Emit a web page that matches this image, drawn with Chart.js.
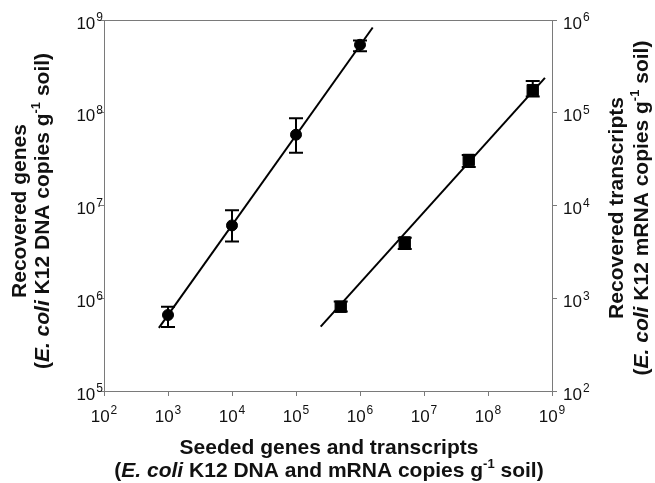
<!DOCTYPE html>
<html>
  <head>
    <script src="https://cdn.jsdelivr.net/npm/chart.js@4.4.0/dist/chart.umd.min.js"></script>
    <style>
      body { margin: 0; background: #fff; }
      .chart-container { width: 655px; height: 483px; }
    </style>
  </head>
  <body>
    <div class="chart-container">
      <canvas id="myChart" width="655" height="483"></canvas>
    </div>
    <script>
      // DNA (genes) - left axis
      var dnaSeeded = [1e3, 1e4, 1e5, 1e6];
      var dnaRecovered = [6.6e5, 6.1e6, 5.8e7, 5.4e8];
      var dnaHigh = [8.1e5, 8.9e6, 8.7e7, 6.0e8];
      var dnaLow = [4.9e5, 4.1e6, 3.7e7, 4.6e8];
      var dnaFitX = [7.2e2, 1.58e6];
      var dnaFitY = [4.8e5, 8.3e8];

      // mRNA (transcripts) - right axis
      var mrnaSeeded = [5e5, 5e6, 5e7, 5e8];
      var mrnaRecovered = [8.1e2, 4.0e3, 3.1e4, 1.75e5];
      var mrnaHigh = [9.2e2, 4.5e3, 3.5e4, 2.2e5];
      var mrnaLow = [7.2e2, 3.4e3, 2.6e4, 1.5e5];
      var mrnaFitX = [2.43e5, 7.76e8];
      var mrnaFitY = [4.95e2, 2.38e5];

      // tick exponents
      var xExponents = [2, 3, 4, 5, 6, 7, 8, 9];
      var yExponents = [5, 6, 7, 8, 9];
      var y2Exponents = [2, 3, 4, 5, 6];

      var FONT = "'Liberation Sans', Arial, sans-serif";
      var AXIS_GREY = "#7a7a7a";

      function pts(xs, ys) {
        return xs.map(function (x, i) { return { x: x, y: ys[i] }; });
      }

      function powTicks(exps) {
        return function (scale) {
          scale.ticks = exps.map(function (e) { return { value: Math.pow(10, e) }; });
        };
      }

      // draw "10" with a raised exponent
      function drawPow(ctx, exp, x, y, align) {
        ctx.font = "17px " + FONT;
        var w1 = ctx.measureText("10").width;
        ctx.font = "12px " + FONT;
        var w2 = ctx.measureText(String(exp)).width;
        var w = w1 + w2 + 1;
        var sx = align === "center" ? x - w / 2 : align === "right" ? x - w : x;
        ctx.textAlign = "left";
        ctx.textBaseline = "middle";
        ctx.font = "17px " + FONT;
        ctx.fillText("10", sx, y);
        ctx.font = "12px " + FONT;
        ctx.fillText(String(exp), sx + w1 + 1, y - 6);
      }

      // draw a line of mixed-style text runs centred on (0,0)
      function drawRuns(ctx, runs) {
        var total = 0;
        runs.forEach(function (r) {
          ctx.font = r.font;
          r.w = ctx.measureText(r.t).width;
          total += r.w;
        });
        var x = -total / 2;
        ctx.textAlign = "left";
        ctx.textBaseline = "middle";
        runs.forEach(function (r) {
          ctx.font = r.font;
          ctx.fillText(r.t, x, r.dy || 0);
          x += r.w;
        });
      }

      var B = "bold 21px " + FONT;
      var BI = "italic bold 21px " + FONT;
      var SUP = "bold 13px " + FONT;

      var labelsPlugin = {
        id: "labels",
        afterDraw: function (chart) {
          var ctx = chart.ctx;
          var a = chart.chartArea;
          var sx = chart.scales.x, sy = chart.scales.y, sy2 = chart.scales.y2;
          ctx.save();

          // frame top line
          ctx.strokeStyle = AXIS_GREY;
          ctx.lineWidth = 1;
          ctx.beginPath();
          ctx.moveTo(a.left, a.top + 0.5);
          ctx.lineTo(a.right, a.top + 0.5);
          ctx.stroke();

          ctx.fillStyle = "#111";
          xExponents.forEach(function (e) {
            drawPow(ctx, e, sx.getPixelForValue(Math.pow(10, e)), a.bottom + 26, "center");
          });
          yExponents.forEach(function (e) {
            drawPow(ctx, e, a.left - 1, sy.getPixelForValue(Math.pow(10, e)) + 4, "right");
          });
          y2Exponents.forEach(function (e) {
            drawPow(ctx, e, a.right + 11, sy2.getPixelForValue(Math.pow(10, e)) + 4, "left");
          });

          // x title
          ctx.save();
          ctx.translate(329, 448);
          drawRuns(ctx, [{ t: "Seeded genes and transcripts", font: B }]);
          ctx.translate(0, 23);
          drawRuns(ctx, [
            { t: "(", font: B },
            { t: "E. coli", font: BI },
            { t: " K12 DNA and mRNA copies g", font: B },
            { t: "-1", font: SUP, dy: -7 },
            { t: " soil)", font: B }
          ]);
          ctx.restore();

          // left title
          ctx.save();
          ctx.translate(20, 211);
          ctx.rotate(-Math.PI / 2);
          drawRuns(ctx, [{ t: "Recovered genes", font: B }]);
          ctx.translate(0, 23);
          drawRuns(ctx, [
            { t: "(", font: B },
            { t: "E. coli", font: BI },
            { t: " K12 DNA copies g", font: B },
            { t: "-1", font: SUP, dy: -7 },
            { t: " soil)", font: B }
          ]);
          ctx.restore();

          // right title
          ctx.save();
          ctx.translate(617, 208);
          ctx.rotate(-Math.PI / 2);
          drawRuns(ctx, [{ t: "Recovered transcripts", font: B }]);
          ctx.translate(0, 25);
          drawRuns(ctx, [
            { t: "(", font: B },
            { t: "E. coli", font: BI },
            { t: " K12 mRNA copies g", font: B },
            { t: "-1", font: SUP, dy: -7 },
            { t: " soil)", font: B }
          ]);
          ctx.restore();

          ctx.restore();
        }
      };

      var errorBarPlugin = {
        id: "errorBars",
        afterDatasetsDraw: function (chart) {
          var ctx = chart.ctx;
          ctx.save();
          ctx.strokeStyle = "#000";
          ctx.lineWidth = 2;
          chart.data.datasets.forEach(function (ds, i) {
            if (!ds.errHigh) return;
            var yScale = chart.scales[ds.yAxisID];
            var meta = chart.getDatasetMeta(i);
            meta.data.forEach(function (pt, j) {
              var x = pt.x;
              var yh = yScale.getPixelForValue(ds.errHigh[j]);
              var yl = yScale.getPixelForValue(ds.errLow[j]);
              ctx.beginPath();
              ctx.moveTo(x, yh); ctx.lineTo(x, yl);
              ctx.moveTo(x - 7, yh); ctx.lineTo(x + 7, yh);
              ctx.moveTo(x - 7, yl); ctx.lineTo(x + 7, yl);
              ctx.stroke();
            });
          });
          ctx.restore();
        }
      };

      function logAxis(pos, min, max, exps, fit) {
        return {
          type: "logarithmic",
          position: pos,
          min: min,
          max: max,
          afterBuildTicks: powTicks(exps),
          afterFit: fit,
          ticks: { display: false },
          border: { display: true, color: AXIS_GREY, width: 1 },
          grid: { display: true, drawOnChartArea: false, drawTicks: true, tickLength: 5, color: AXIS_GREY }
        };
      }

      var ctx = document.getElementById("myChart").getContext("2d");
      var chart = new Chart(ctx, {
        type: "scatter",
        data: {
          datasets: [
            {
              label: "DNA fit",
              data: pts(dnaFitX, dnaFitY),
              yAxisID: "y",
              showLine: true,
              borderColor: "#000",
              borderWidth: 2,
              pointRadius: 0
            },
            {
              label: "mRNA fit",
              data: pts(mrnaFitX, mrnaFitY),
              yAxisID: "y2",
              showLine: true,
              borderColor: "#000",
              borderWidth: 2,
              pointRadius: 0
            },
            {
              label: "Genes",
              data: pts(dnaSeeded, dnaRecovered),
              yAxisID: "y",
              pointStyle: "circle",
              pointRadius: 5.5,
              backgroundColor: "#000",
              borderColor: "#000",
              errHigh: dnaHigh,
              errLow: dnaLow
            },
            {
              label: "Transcripts",
              data: pts(mrnaSeeded, mrnaRecovered),
              yAxisID: "y2",
              pointStyle: "rect",
              pointRadius: 8,
              backgroundColor: "#000",
              borderColor: "#000",
              errHigh: mrnaHigh,
              errLow: mrnaLow
            }
          ]
        },
        options: {
          responsive: false,
          animation: false,
          layout: { padding: { top: 20, left: 0, right: 0, bottom: 0 } },
          plugins: {
            legend: { display: false },
            tooltip: { enabled: false }
          },
          scales: {
            x: logAxis("bottom", 1e2, 1e9, xExponents, function (s) { s.height = 92; }),
            y: logAxis("left", 1e5, 1e9, yExponents, function (s) { s.width = 104; }),
            y2: logAxis("right", 1e2, 1e6, y2Exponents, function (s) { s.width = 103; })
          }
        },
        plugins: [errorBarPlugin, labelsPlugin]
      });
    </script>
  </body>
</html>
